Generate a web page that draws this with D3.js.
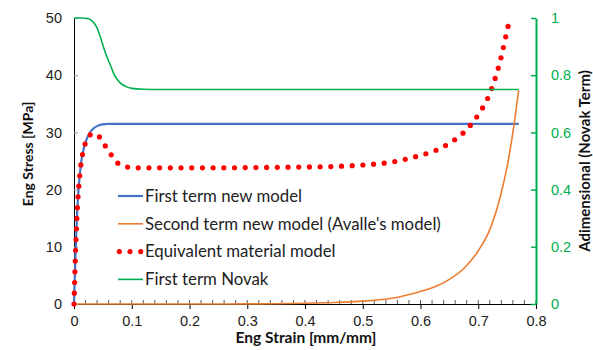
<!DOCTYPE html>
<html>
<head>
<meta charset="utf-8">
<script src="https://cdn.jsdelivr.net/npm/d3@7"></script>
<style>
  body { margin: 0; background: #fff; }
  svg { display: block; font-family: Lato, "Open Sans", sans-serif; }
</style>
</head>
<body>
<svg id="chart" width="593" height="350"></svg>
<script>
// Engineering strain samples shared by the model curves
const strain = [0, 0.0025, 0.005, 0.0075, 0.01, 0.0125, 0.015, 0.02, 0.025, 0.03,
  0.035, 0.04, 0.045, 0.05, 0.055, 0.06, 0.065, 0.07, 0.075, 0.08,
  0.09, 0.1, 0.12, 0.15, 0.2, 0.25, 0.3, 0.35, 0.4, 0.45,
  0.5, 0.55, 0.6, 0.625, 0.65, 0.675, 0.7, 0.72, 0.74, 0.75,
  0.76, 0.77];

// First term new model [MPa]
const firstTerm = [0, 8.5, 15, 19.5, 22.5, 24.8, 26.3, 28.3, 29.5, 30.3,
  30.8, 31.1, 31.3, 31.4, 31.45, 31.5, 31.5, 31.5, 31.5, 31.5,
  31.5, 31.5, 31.5, 31.5, 31.5, 31.5, 31.5, 31.5, 31.5, 31.5,
  31.5, 31.5, 31.5, 31.5, 31.5, 31.5, 31.5, 31.5, 31.5, 31.5,
  31.5, 31.5];

// Second term new model (Avalle's model) [MPa]
const secondTerm = [0, 0, 0, 0, 0, 0, 0, 0, 0, 0,
  0, 0, 0, 0, 0, 0, 0, 0, 0, 0,
  0, 0, 0, 0, 0, 0.01, 0.02, 0.05, 0.12, 0.25,
  0.5, 1.0, 2.2, 3.0, 4.3, 6.2, 9.3, 13.0, 19.5, 24.0,
  30.0, 37.4];

// First term Novak (dimensionless, right axis)
const novak = [1, 1, 1, 1, 1, 1, 1, 0.999, 0.997, 0.992,
  0.982, 0.965, 0.937, 0.905, 0.875, 0.85, 0.825, 0.8, 0.785, 0.773,
  0.76, 0.754, 0.751, 0.75, 0.75, 0.75, 0.75, 0.75, 0.75, 0.75,
  0.75, 0.75, 0.75, 0.75, 0.75, 0.75, 0.75, 0.75, 0.75, 0.75,
  0.75, 0.75];

// Equivalent material model [MPa]
const strainEq = [0, 0.0025, 0.005, 0.0075, 0.01, 0.0125, 0.015, 0.02, 0.025, 0.03,
  0.035, 0.04, 0.045, 0.05, 0.055, 0.06, 0.065, 0.07, 0.075, 0.08,
  0.09, 0.1, 0.12, 0.15, 0.2, 0.25, 0.3, 0.35, 0.4, 0.45,
  0.5, 0.55, 0.6, 0.625, 0.65, 0.675, 0.7, 0.72, 0.74, 0.75,
  0.755];
const equivalent = [0, 8.5, 15, 19.5, 22.5, 24.8, 26.3, 28.2, 29.2, 29.7,
  29.8, 29.6, 29.1, 28.4, 27.5, 26.8, 26.0, 25.2, 24.7, 24.3,
  24.0, 23.85, 23.8, 23.8, 23.8, 23.8, 23.85, 23.9, 23.95, 24.05,
  24.3, 24.8, 26.0, 26.8, 28.1, 30.0, 33.1, 36.8, 43.3, 47.8,
  50.0];

const xTicks = [0, 0.1, 0.2, 0.3, 0.4, 0.5, 0.6, 0.7, 0.8];
const yTicks = [0, 10, 20, 30, 40, 50];
const y2Ticks = [0, 0.2, 0.4, 0.6, 0.8, 1];

const legendLabels = ["First term new model", "Second term new model (Avalle's model)",
  "Equivalent material model", "First term Novak"];

const C = { blue: "#4472C4", orange: "#ED7D31", red: "#FF0000", green: "#00B050" };

const svg = d3.select("#chart");
const m = { left: 74, right: 536, top: 18, bottom: 304 };

const x = d3.scaleLinear().domain([0, 0.8]).range([m.left, m.right]);
const y = d3.scaleLinear().domain([0, 50]).range([m.bottom, m.top]);
const y2 = d3.scaleLinear().domain([0, 1]).range([m.bottom, m.top]);

// Bottom axis: minor ticks upward every 0.02, major ticks downward every 0.1
const minor = d3.range(0, 0.8001, 0.02);
svg.append("g").selectAll("line").data(minor).join("line")
  .attr("x1", d => x(d)).attr("x2", d => x(d))
  .attr("y1", m.bottom).attr("y2", m.bottom - 4)
  .attr("stroke", "#595959").attr("stroke-width", 1);

const xAxis = svg.append("g").attr("transform", `translate(0,${m.bottom})`)
  .call(d3.axisBottom(x).tickValues(xTicks).tickFormat(d3.format("")).tickSize(5).tickSizeOuter(0));
xAxis.select(".domain").attr("stroke", "#000");
xAxis.selectAll(".tick line").attr("stroke", "#000");
xAxis.selectAll(".tick text").attr("font-size", 14.5).attr("fill", "#222").attr("dy", "0.95em").attr("y", 8);

// Left axis (ticks drawn inside the plot)
const yAxis = svg.append("g").attr("transform", `translate(${m.left},0)`)
  .call(d3.axisLeft(y).tickValues(yTicks).tickSize(-4).tickPadding(12).tickSizeOuter(0));
yAxis.select(".domain").attr("stroke", "#000");
yAxis.selectAll(".tick line").attr("stroke", "#9a9a9a");
yAxis.selectAll(".tick text").attr("font-size", 14.5).attr("fill", "#222");

// Right axis for the Novak term
const y2Axis = svg.append("g").attr("transform", `translate(${m.right},0)`)
  .call(d3.axisRight(y2).tickValues(y2Ticks).tickFormat(d3.format("")).tickSize(-5).tickPadding(15).tickSizeOuter(0));
y2Axis.select(".domain").attr("stroke", C.green).attr("stroke-width", 2);
y2Axis.selectAll(".tick line").attr("stroke", C.green).attr("stroke-width", 1.5);
y2Axis.selectAll(".tick text").attr("font-size", 14.5).attr("fill", C.green);

// Axis titles
svg.append("text").attr("x", 306).attr("y", 343).attr("text-anchor", "middle")
  .attr("font-size", 15.5).attr("font-weight", "bold").attr("fill", "#111").text("Eng Strain [mm/mm]");
svg.append("text").attr("transform", "translate(33,154) rotate(-90)").attr("text-anchor", "middle")
  .attr("font-size", 14).attr("font-weight", "bold").attr("fill", "#111").text("Eng Stress [MPa]");
svg.append("text").attr("transform", "translate(590,161) rotate(-90)").attr("text-anchor", "middle")
  .attr("font-size", 15).attr("font-weight", "bold").attr("fill", "#111").text("Adimensional (Novak Term)");

// Series
const line = (xs, ys, sy) => d3.line().x((d, i) => x(xs[i])).y((d, i) => sy(ys[i])).curve(d3.curveMonotoneX)(ys);

svg.append("path").attr("d", line(strain, firstTerm, y))
  .attr("fill", "none").attr("stroke", C.blue).attr("stroke-width", 2.2);
svg.append("path").attr("d", line(strain, secondTerm, y))
  .attr("fill", "none").attr("stroke", C.orange).attr("stroke-width", 1.6);
svg.append("path").attr("d", line(strainEq, equivalent, y))
  .attr("fill", "none").attr("stroke", C.red).attr("stroke-width", 5.2)
  .attr("stroke-linecap", "round").attr("stroke-dasharray", "0 10.7");
svg.append("path").attr("d", line(strain, novak, y2))
  .attr("fill", "none").attr("stroke", C.green).attr("stroke-width", 1.6);

// Legend
const legendStyles = [
  { color: C.blue, width: 2.2, dash: null },
  { color: C.orange, width: 1.6, dash: null },
  { color: C.red, width: 5.2, dash: "0 10.7" },
  { color: C.green, width: 1.6, dash: null }
];
const lg = svg.append("g");
legendLabels.forEach((label, i) => {
  const cy = 196 + i * 27.8;
  const s = legendStyles[i];
  lg.append("line").attr("x1", s.dash ? 119.3 : 118).attr("x2", s.dash ? 141 : 143)
    .attr("y1", cy).attr("y2", cy)
    .attr("stroke", s.color).attr("stroke-width", s.width)
    .attr("stroke-linecap", s.dash ? "round" : "butt")
    .attr("stroke-dasharray", s.dash);
  lg.append("text").attr("x", 145).attr("y", cy).attr("dy", "0.35em")
    .attr("font-size", 16.8).attr("fill", "#222").text(label);
});
</script>
</body>
</html>
